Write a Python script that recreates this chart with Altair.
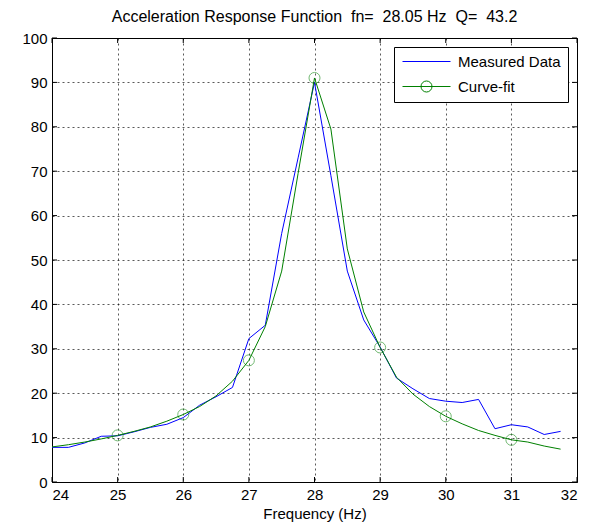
import altair as alt
import pandas as pd

# ---- data ----
freq = [24.00, 24.25, 24.50, 24.75, 25.00, 25.25, 25.50, 25.75,
        26.00, 26.25, 26.50, 26.75, 27.00, 27.25, 27.50, 27.75,
        28.00, 28.25, 28.50, 28.75, 29.00, 29.25, 29.50, 29.75,
        30.00, 30.25, 30.50, 30.75, 31.00, 31.25, 31.50, 31.75]
measured = [7.8, 7.8, 8.8, 10.3, 10.4, 11.3, 12.3, 13.0,
            14.5, 17.3, 19.2, 21.3, 32.3, 35.3, 56.0, 73.0,
            90.0, 69.0, 47.5, 36.5, 30.4, 23.4, 21.0, 18.8,
            18.2, 17.9, 18.6, 12.0, 12.9, 12.4, 10.7, 11.4]
curvefit = [7.9, 8.4, 9.0, 9.7, 10.5, 11.4, 12.4, 13.7,
            15.2, 17.0, 19.4, 22.7, 27.4, 35.0, 47.5, 69.5,
            91.0, 79.5, 52.5, 38.3, 30.3, 23.6, 19.8, 17.0,
            14.8, 13.1, 11.6, 10.5, 9.5, 9.0, 8.1, 7.4]
marker_freq = [25, 26, 27, 28, 29, 30, 31]
marker_val = [10.5, 15.2, 27.4, 91.0, 30.3, 14.8, 9.5]
series_names = ["Measured Data", "Curve-fit"]
series_colors = ["#0000ff", "#008000"]
x_ticks = [24, 25, 26, 27, 28, 29, 30, 31, 32]
y_ticks = [0, 10, 20, 30, 40, 50, 60, 70, 80, 90, 100]
title_text = "Acceleration Response Function \u00a0fn= \u00a028.05 Hz \u00a0Q= \u00a043.2"
x_title = "Frequency (Hz)"

FONT = "Liberation Sans"
W, H = 525, 444

meas_df = pd.DataFrame({"f": freq, "v": measured, "s": series_names[0]})
fit_df = pd.DataFrame({"f": freq, "v": curvefit, "s": series_names[1]})
mark_df = pd.DataFrame({"f": marker_freq, "v": marker_val})
legend_df = pd.DataFrame({"s": series_names, "f": [None, None], "v": [None, None]})
xt_df = pd.DataFrame({"t": x_ticks})
yt_df = pd.DataFrame({"t": y_ticks})

xscale = alt.Scale(domain=[24, 32], nice=False, zero=False)
yscale = alt.Scale(domain=[0, 100], nice=False)

xaxis = alt.Axis(values=x_ticks, grid=True, title=x_title, format="d", tickSize=0,
                 labelPadding=5, titlePadding=4)
yaxis = alt.Axis(values=y_ticks, grid=True, title=None, format="d", tickSize=0,
                 labelPadding=5)

X = alt.X("f:Q", scale=xscale, axis=xaxis)
Y = alt.Y("v:Q", scale=yscale, axis=yaxis)

color_scale = alt.Scale(domain=series_names, range=series_colors)

line_meas = alt.Chart(meas_df).mark_line(color=series_colors[0], strokeWidth=1).encode(x=X, y=Y)
line_fit = alt.Chart(fit_df).mark_line(color=series_colors[1], strokeWidth=1).encode(x=X, y=Y)
markers = alt.Chart(mark_df).mark_point(shape="circle", filled=False, size=121,
                                        color=series_colors[1], strokeWidth=1,
                                        opacity=0.55).encode(x=X, y=Y)

leg_shapes = ["M-1,0H7",
              "M-1,0H7M3.92,0A0.92,0.92,0,1,1,2.08,0A0.92,0.92,0,1,1,3.92,0"]
legend_layer = alt.Chart(legend_df).mark_point(filled=False, strokeWidth=1, opacity=1,
                                               size=144).encode(
    x=alt.X("f:Q", scale=xscale),
    y=alt.Y("v:Q", scale=yscale),
    color=alt.Color("s:N", scale=color_scale, title=None,
                    legend=alt.Legend(orient="none", legendX=342, legendY=9,
                                      padding=7, strokeColor="black", fillColor="white",
                                      labelFontSize=15, labelFont=FONT, labelColor="black",
                                      labelOffset=42, rowPadding=8, symbolSize=144,
                                      symbolStrokeWidth=1, cornerRadius=0)),
    shape=alt.Shape("s:N", scale=alt.Scale(domain=series_names, range=leg_shapes), title=None),
)

tick_x_bottom = alt.Chart(xt_df).mark_rule(color="black", strokeWidth=1).encode(
    x=alt.X("t:Q", scale=xscale), y=alt.value(H), y2=alt.value(H - 5))
tick_x_top = alt.Chart(xt_df).mark_rule(color="black", strokeWidth=1).encode(
    x=alt.X("t:Q", scale=xscale), y=alt.value(0), y2=alt.value(5))
tick_y_left = alt.Chart(yt_df).mark_rule(color="black", strokeWidth=1).encode(
    y=alt.Y("t:Q", scale=yscale), x=alt.value(0), x2=alt.value(5))
tick_y_right = alt.Chart(yt_df).mark_rule(color="black", strokeWidth=1).encode(
    y=alt.Y("t:Q", scale=yscale), x=alt.value(W), x2=alt.value(W - 5))

chart = alt.layer(
    tick_x_bottom, tick_x_top, tick_y_left, tick_y_right,
    line_meas, line_fit, markers, legend_layer
).properties(
    width=W, height=H,
    background="white",
    title=alt.Title(title_text, font=FONT, fontSize=16, fontWeight="normal",
                    color="black", offset=10, dy=4),
    autosize=alt.AutoSizeParams(type="none"),
    padding={"left": 44, "top": 30, "right": 10, "bottom": 42},
).configure_view(
    stroke="black", strokeWidth=1
).configure_axis(
    domainColor="black", labelColor="black", titleColor="black",
    labelFont=FONT, titleFont=FONT, labelFontSize=15, titleFontSize=15,
    titleFontWeight="normal", gridColor="black", gridOpacity=0.65,
    gridDash=[2, 3], gridWidth=1
)

chart.save("out.html", embed_options={"renderer": "svg", "actions": False})
